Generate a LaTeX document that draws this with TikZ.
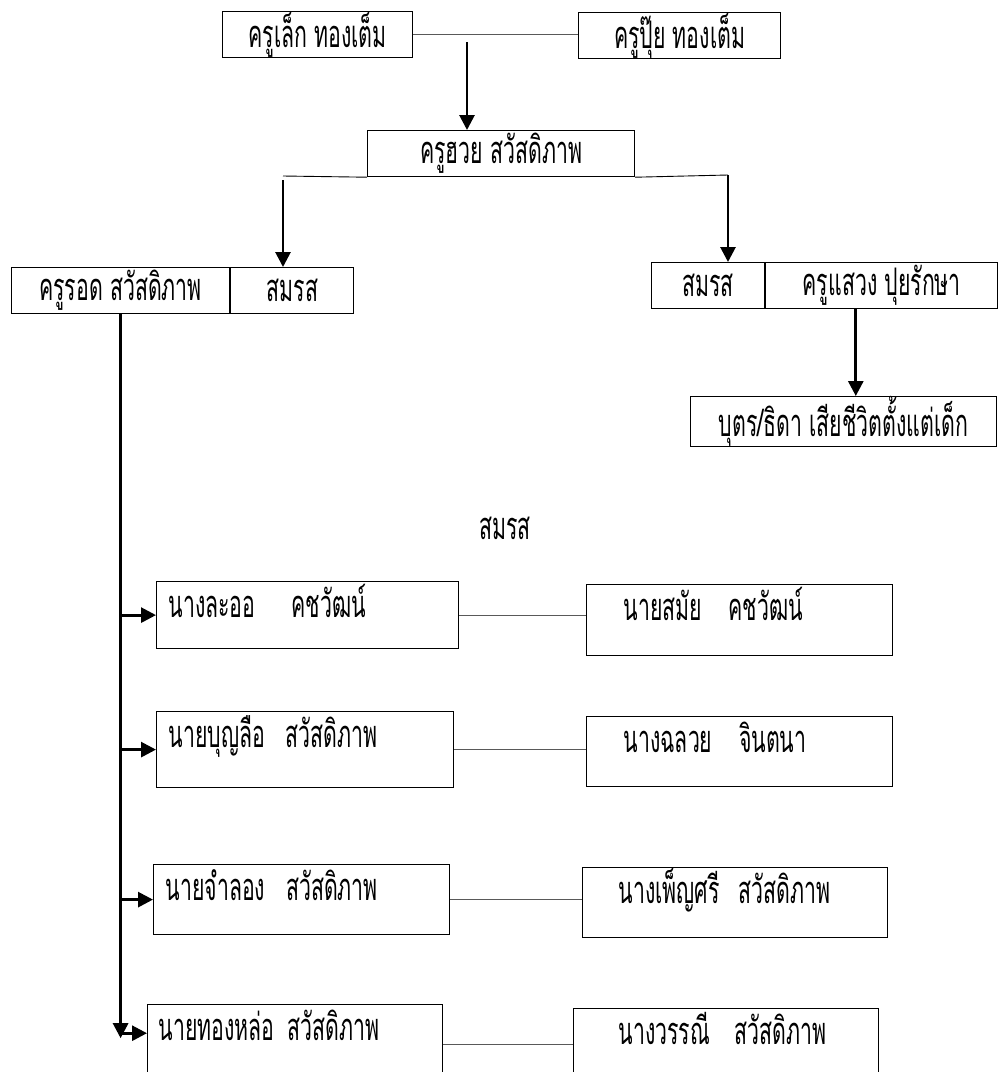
\documentclass[tikz,border=0pt]{standalone}
\usepackage{fontspec}
\newfontfamily\thaifont[Script=Thai, FakeStretch=0.56]{Loma}
\usetikzlibrary{arrows.meta, positioning}
\tikzset{
  box/.style={rectangle, draw, line width=1.2pt, inner sep=0pt, minimum height=46, anchor=north west},
  person/.style n args={3}{rectangle, draw, line width=1.2pt, anchor=north west, inner ysep=0pt, inner xsep=#3, text width=#1-2*#3, align=left, text height=36, text depth=#2-36},
  arrow/.style={-{Triangle[length=15pt, width=15pt]}, line width=2.8pt},
  link/.style={line width=0.8pt, black!65},
}

\begin{document}
\begin{tikzpicture}[x=1pt, y=-1pt, font=\thaifont\fontsize{38}{42}\selectfont]
    \useasboundingbox (0,0) rectangle (997,1072);
    % parents
    \node[box, minimum width=190] (lek) at (222,11) {ครูเล็ก ทองเต็ม};
    \node[box, minimum width=202] (pui) at (578,12) {ครูปุ๊ย ทองเต็ม};
    \node[box, minimum width=267] (huay) at (367,130) {ครูฮวย สวัสดิภาพ};
    \draw[link] (lek.east) -- (lek.east -| pui.west);
    \coordinate (top) at (467,42);
    \draw[arrow] (top) -- (top |- huay.north);
    % second row
    \node[box, minimum width=218] (rod) at (11,267) {ครูรอด สวัสดิภาพ};
    \node[box, minimum width=123] (rodsm) at (rod.north east) {สมรส};
    \node[box, minimum width=113] (sm2) at (651,262) {สมรส};
    \node[box, minimum width=232] (saeng) at (sm2.north east) {ครูแสวง ปุยรักษา};
    \node[box, minimum width=306] (died) at (690,396) {บุตร/ธิดา เสียชีวิตตั้งแต่เด็ก};
    \coordinate (hl) at (283,176);
    \coordinate (hr) at (728,175);
    \draw[line width=0.9pt] (huay.south west) -- (hl);
    \draw[arrow] ([yshift=-4pt]hl) -- (hl |- rodsm.north);
    \draw[line width=0.9pt] (huay.south east) -- (hr);
    \draw[arrow] (hr) -- (hr |- sm2.north);
    \draw[arrow] ([xshift=-26pt]saeng.south) -- ([xshift=-26pt]saeng.south |- died.north);
    \node (marry) at (505,528) {สมรส};
    % children and spouses
    \node[person={302}{67}{12}] (laor) at (156,581) {นางละออ\hspace{0.95em}คชวัฒน์};
    \node[person={306}{71}{37}] (samai) at (586,584) {นายสมัย\hspace{0.7em}คชวัฒน์};
    \node[person={297}{76}{12}] (boonlue) at (156,711) {นายบุญลือ\hspace{0.55em}สวัสดิภาพ};
    \node[person={306}{70}{37}] (chaluay) at (586,716) {นางฉลวย\hspace{0.7em}จินตนา};
    \node[person={296}{70}{12}] (chamlong) at (153,864) {นายจำลอง\hspace{0.55em}สวัสดิภาพ};
    \node[person={305}{70}{36}] (pensri) at (582,867) {นางเพ็ญศรี\hspace{0.5em}สวัสดิภาพ};
    \node[person={295}{80}{11}] (thonglor) at (147,1004) {นายทองหล่อ สวัสดิภาพ};
    \node[person={305}{80}{45}] (wannee) at (573,1008) {นางวรรณี\hspace{0.65em}สวัสดิภาพ};
    \draw[arrow] (rod.south) -- ++(0,724) coordinate (vend);
    \foreach \k in {laor, boonlue, chamlong}
      \draw[arrow] (rod.south |- \k.west) -- (\k.west);
    \draw[arrow] ([yshift=5pt]vend) -- ([yshift=5pt]vend -| thonglor.west);
    \foreach \a/\b in {laor/samai, boonlue/chaluay, chamlong/pensri, thonglor/wannee}
      \draw[link] (\a.east) -- (\a.east -| \b.west);
  \end{tikzpicture}
\end{document}
